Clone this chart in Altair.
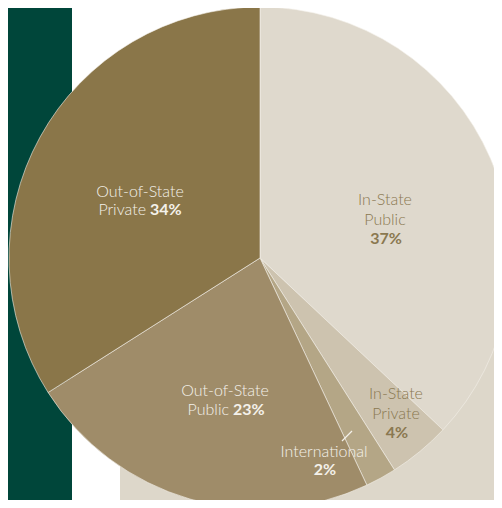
import altair as alt
import pandas as pd

# ---- data ----
categories = ["In-State Public", "In-State Private", "International",
              "Out-of-State Public", "Out-of-State Private"]
values = [37, 4, 2, 23, 34]
slice_colors = ["#dfd9cd", "#cdc3af", "#b4a686", "#9f8c69", "#8a7649"]

# label text pieces
label_regular = ["In-State", "Public", "In-State", "Private", "International",
                 "Out-of-State", "Public", "Out-of-State", "Private"]
label_bold = ["37%", "4%", "2%", "23%", "34%"]

# ---- layout (page pixel coordinates; page has an 8px margin) ----
M = 8
W, H = 502 - 2 * M, 508 - 2 * M
CX, CY, R = 260 - M, 258 - M, 251

WHITE_TXT = "#f4f1ea"
BROWN_TXT = "#8a7850"

pie_df = pd.DataFrame({"category": categories, "value": values,
                       "order": list(range(len(categories)))})

pie = alt.Chart(pie_df).mark_arc(
    radius=R, stroke="#f3f0ea", strokeWidth=0.6, x=CX, y=CY
).encode(
    theta=alt.Theta("value:Q", stack=True),
    order=alt.Order("order:Q", sort="ascending"),
    color=alt.Color("category:N", scale=alt.Scale(domain=categories, range=slice_colors),
                    legend=None),
)

# text placements: (x, y baseline, align, color)
reg_pos = [
    (385, 205, "center", BROWN_TXT),   # In-State
    (385, 225, "center", BROWN_TXT),   # Public
    (396, 399, "center", BROWN_TXT),   # In-State
    (396, 419, "center", BROWN_TXT),   # Private
    (324, 457, "center", WHITE_TXT),   # International
    (225, 396, "center", WHITE_TXT),   # Out-of-State
    (229, 415, "right", WHITE_TXT),    # Public
    (140, 197, "center", WHITE_TXT),   # Out-of-State
    (146, 215, "right", WHITE_TXT),    # Private
]
bold_pos = [
    (386, 244, "center", BROWN_TXT),   # 37%
    (397, 438, "center", BROWN_TXT),   # 4%
    (325, 475, "center", WHITE_TXT),   # 2%
    (233, 415, "left", WHITE_TXT),     # 23%
    (150, 215, "left", WHITE_TXT),     # 34%
]

def text_df(texts, pos):
    return pd.DataFrame({
        "t": texts,
        "x": [p[0] - M for p in pos],
        "y": [p[1] - M for p in pos],
        "align": [p[2] for p in pos],
        "c": [p[3] for p in pos],
    })

reg_df = text_df(label_regular, reg_pos)
bold_df = text_df(label_bold, bold_pos)

FONT = "Lato"
FS = 16

def text_layers(df, weight):
    layers = []
    for al in ["center", "left", "right"]:
        sub = df[df["align"] == al]
        if len(sub) == 0:
            continue
        layers.append(
            alt.Chart(sub).mark_text(font=FONT, fontSize=FS, fontWeight=weight,
                                     align=al, baseline="alphabetic").encode(
                x=alt.X("x:Q", scale=None, axis=None),
                y=alt.Y("y:Q", scale=None, axis=None),
                text="t:N",
                color=alt.Color("c:N", scale=None),
            )
        )
    return layers

# decorative background blocks
green = alt.Chart(pd.DataFrame({"a": [0]})).mark_rect(color="#00463a").encode(
    x=alt.value(0), x2=alt.value(72 - M), y=alt.value(0), y2=alt.value(H))
beige = alt.Chart(pd.DataFrame({"a": [0]})).mark_rect(color="#ddd7ca").encode(
    x=alt.value(120 - M), x2=alt.value(W), y=alt.value(300 - M), y2=alt.value(H))

leader = alt.Chart(pd.DataFrame({"x": [342 - M], "x2": [352 - M],
                                 "y": [441 - M], "y2": [431 - M]})).mark_rule(
    color=WHITE_TXT, strokeWidth=1.2).encode(
    x=alt.X("x:Q", scale=None), x2="x2:Q",
    y=alt.Y("y:Q", scale=None), y2="y2:Q")

chart = alt.layer(
    green, beige, pie, leader,
    *text_layers(reg_df, 300), *text_layers(bold_df, "bold")
).properties(
    width=W, height=H, padding=0, autosize=alt.AutoSizeParams(type="none"),
    background="white"
).configure_view(stroke=None)

chart.save("out.html", embed_options={"renderer": "svg", "actions": False})
